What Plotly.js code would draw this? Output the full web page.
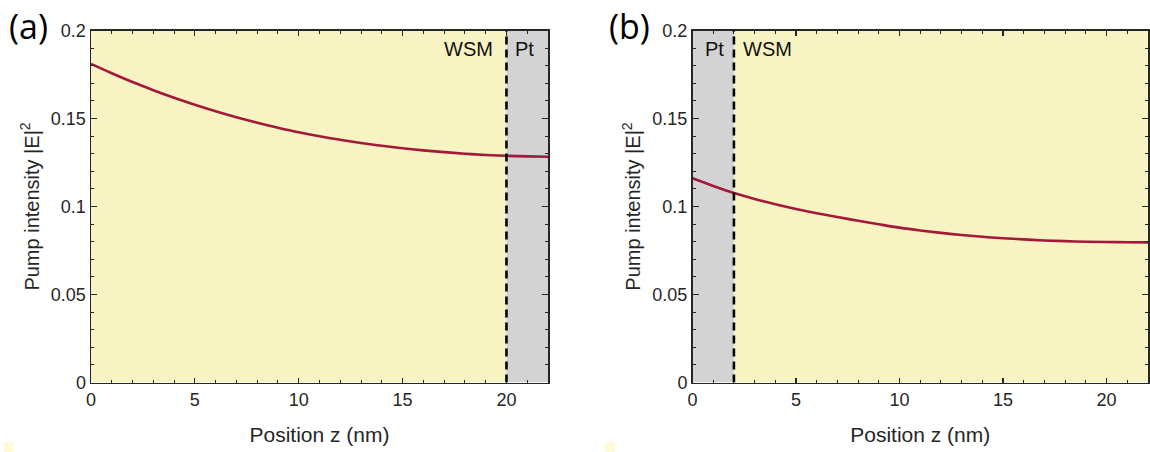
<!DOCTYPE html>
<html>
<head>
<meta charset="utf-8">
<script src="https://cdn.plot.ly/plotly-3.0.1.min.js"></script>
<style>html,body{margin:0;padding:0;background:#fff;}#chart{width:1150px;height:452px;}</style>
</head>
<body>
<div id="chart"></div>
<script>
// Position z (nm)
const zA = [0,1,2,3,4,5,6,7,8,9,10,11,12,13,14,15,16,17,18,19,20,21,22];
const intensityA = [0.1810,0.1757,0.1707,0.1661,0.1618,0.1578,0.1541,0.1507,0.1476,0.1448,0.1422,0.1399,0.1379,0.1361,0.1345,0.1331,0.1319,0.1309,0.1300,0.1293,0.1288,0.1285,0.1283];
const zB = [0,1,2,3,4,5,6,7,8,9,10,11,12,13,14,15,16,17,18,19,20,21,22];
const intensityB = [0.1160,0.1117,0.1077,0.1043,0.1013,0.0986,0.0962,0.0940,0.0919,0.0899,0.0880,0.0864,0.0850,0.0838,0.0828,0.0820,0.0813,0.0807,0.0803,0.0800,0.0798,0.0797,0.0796];
// Layer regions [start, end, label]
const layersA = [[0,20,'WSM'],[20,22,'Pt']];
const layersB = [[0,2,'Pt'],[2,22,'WSM']];
const interfaceA = 20;
const interfaceB = 2;
const xTicks = [0,5,10,15,20];
const yTicks = [0,0.05,0.1,0.15,0.2];
const yTickText = ['0','0.05','0.1','0.15','0.2'];
const panelLabels = ['(a)','(b)'];

const YELLOW = '#F8F3C2';
const GRAY = '#D3D3D3';
const CURVE = '#A4183A';
const AXC = '#262626';
const FONT = "Arial, 'Liberation Sans', Helvetica, sans-serif";

const traces = [
  {x: zA, y: intensityA, xaxis:'x', yaxis:'y', mode:'lines', line:{color:CURVE, width:2.6, shape:'spline'}, hoverinfo:'skip', showlegend:false},
  {x: zB, y: intensityB, xaxis:'x2', yaxis:'y2', mode:'lines', line:{color:CURVE, width:2.6, shape:'spline'}, hoverinfo:'skip', showlegend:false}
];

function xAxis(domain, anchor){
  return {domain: domain, anchor: anchor, range:[0,22], tickvals:xTicks, ticktext:xTicks.map(String),
    ticks:'inside', ticklen:5, tickwidth:1.2, tickcolor:AXC, showline:true, linecolor:AXC, linewidth:1.5,
    mirror:'allticks', showgrid:false, zeroline:false,
    minor:{dtick:1, tick0:0, ticks:'inside', ticklen:3, tickwidth:1, tickcolor:AXC, showgrid:false},
    tickfont:{family:FONT, size:18, color:AXC},
    title:{text:'Position z (nm)', font:{family:FONT, size:21, color:AXC}, standoff:18},
    automargin:false, layer:'above traces'};
}
function yAxis(domain, anchor){
  return {domain: domain, anchor: anchor, range:[0,0.2], tickvals:yTicks, ticktext:yTickText,
    ticks:'inside', ticklen:6, tickwidth:1.2, tickcolor:AXC, showline:true, linecolor:AXC, linewidth:1.5,
    mirror:'allticks', showgrid:false, zeroline:false,
    minor:{dtick:0.01, tick0:0, ticks:'inside', ticklen:3, tickwidth:1, tickcolor:AXC, showgrid:false},
    tickfont:{family:FONT, size:18, color:AXC},
    title:{text:'Pump intensity |E|<sup>2</sup>', font:{family:FONT, size:20, color:AXC}, standoff:6},
    automargin:false, layer:'above traces'};
}

const shapes = [];
const annotations = [];
function addLayers(layers, xr, yr){
  layers.forEach(l => {
    shapes.push({type:'rect', xref:xr, yref:yr, x0:l[0], x1:l[1], y0:0, y1:0.2,
      fillcolor: l[2]==='Pt' ? GRAY : YELLOW, line:{width:0}, layer:'below'});
  });
}
addLayers(layersA,'x','y');
addLayers(layersB,'x2','y2');
shapes.push({type:'line', xref:'x', yref:'y', x0:interfaceA, x1:interfaceA, y0:0, y1:0.2, line:{color:'#000', width:2.6, dash:'8px,5px'}, layer:'above'});
shapes.push({type:'line', xref:'x2', yref:'y2', x0:interfaceB, x1:interfaceB, y0:0, y1:0.2, line:{color:'#000', width:2.6, dash:'8px,5px'}, layer:'above'});
// tiny marks at bottom-left corners
shapes.push({type:'rect', xref:'paper', yref:'paper', x0:4/1150, x1:14/1150, y0:0, y1:10/452, fillcolor:'#FFFBD8', line:{width:0}});
shapes.push({type:'rect', xref:'paper', yref:'paper', x0:605/1150, x1:615/1150, y0:0, y1:10/452, fillcolor:'#FFFBD8', line:{width:0}});

// layer labels
const LF = {family:FONT, size:20, color:'#111'};
annotations.push({xref:'x', yref:'y', x:interfaceA, y:0.2, text:'WSM', showarrow:false, xanchor:'right', yanchor:'top', xshift:-11, yshift:-5, font:LF});
annotations.push({xref:'x', yref:'y', x:interfaceA, y:0.2, text:'Pt', showarrow:false, xanchor:'left', yanchor:'top', xshift:7, yshift:-5, font:LF});
annotations.push({xref:'x2', yref:'y2', x:interfaceB, y:0.2, text:'Pt', showarrow:false, xanchor:'right', yanchor:'top', xshift:-8, yshift:-5, font:LF});
annotations.push({xref:'x2', yref:'y2', x:interfaceB, y:0.2, text:'WSM', showarrow:false, xanchor:'left', yanchor:'top', xshift:7, yshift:-5, font:LF});
// panel labels
annotations.push({xref:'paper', yref:'paper', x:7/1150, y:1-1/452, text:panelLabels[0], showarrow:false, xanchor:'left', yanchor:'top', font:{family:'Open Sans, Noto Sans', size:34, color:'#000'}});
annotations.push({xref:'paper', yref:'paper', x:607/1150, y:1-1/452, text:panelLabels[1], showarrow:false, xanchor:'left', yanchor:'top', font:{family:'Open Sans, Noto Sans', size:34, color:'#000'}});

const yDom = [1-382.5/452, 1-30.5/452];
const layout = {
  width:1150, height:452, margin:{l:0,r:0,t:0,b:0}, paper_bgcolor:'#fff', plot_bgcolor:'rgba(0,0,0,0)',
  xaxis: xAxis([91/1150, 548/1150], 'y'),
  yaxis: yAxis(yDom, 'x'),
  xaxis2: xAxis([692.5/1150, 1148/1150], 'y2'),
  yaxis2: yAxis(yDom, 'x2'),
  shapes: shapes, annotations: annotations, showlegend:false
};
Plotly.newPlot('chart', traces, layout, {staticPlot:true, displayModeBar:false});
</script>
</body>
</html>
